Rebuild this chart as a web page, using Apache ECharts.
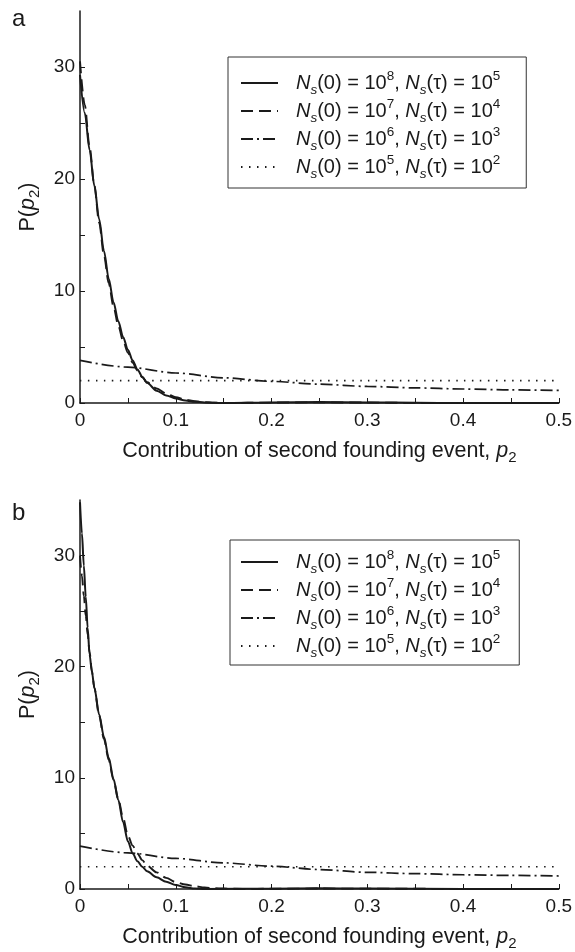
<!DOCTYPE html>
<html>
<head>
<meta charset="utf-8">
<script src="https://cdn.jsdelivr.net/npm/echarts@6/dist/echarts.min.js"></script>
<style>
  html, body { margin: 0; padding: 0; background: #fff; }
  #chart { width: 575px; height: 952px; }
</style>
</head>
<body>
<div id="chart"></div>
<script>
// ---------- data ----------
// Panel a
const pA1 = [0, 0.005, 0.01, 0.015, 0.02, 0.025, 0.03, 0.035, 0.04, 0.045, 0.05, 0.055, 0.06, 0.065, 0.07, 0.08, 0.09, 0.1, 0.11, 0.12, 0.13, 0.14, 0.15, 0.2, 0.25, 0.3, 0.35, 0.4, 0.45, 0.5];
const yA1 = [29.3, 25.9, 22.6, 19.4, 16.4, 13.6, 11.1, 9.0, 7.3, 5.9, 4.75, 3.8, 3.0, 2.35, 1.8, 1.1, 0.68, 0.4, 0.22, 0.11, 0.05, 0.02, 0.0, 0.05, 0.08, 0.05, 0.02, 0.0, 0.0, 0.0];
const pA2 = [0, 0.005, 0.01, 0.015, 0.02, 0.025, 0.03, 0.035, 0.04, 0.045, 0.05, 0.055, 0.06, 0.065, 0.07, 0.08, 0.09, 0.1, 0.11, 0.12, 0.13, 0.14, 0.15, 0.2, 0.25, 0.3, 0.35, 0.4, 0.45, 0.5];
const yA2 = [30.5, 26.6, 22.9, 19.4, 16.1, 13.2, 10.7, 8.6, 6.9, 5.55, 4.5, 3.6, 2.9, 2.3, 1.85, 1.3, 0.85, 0.52, 0.3, 0.15, 0.07, 0.03, 0.0, 0.04, 0.06, 0.04, 0.01, 0.0, 0.0, 0.0];
const pA3 = [0, 0.05, 0.1, 0.15, 0.2, 0.25, 0.3, 0.35, 0.4, 0.45, 0.5];
const yA3 = [3.8, 3.2, 2.68, 2.25, 1.93, 1.68, 1.48, 1.35, 1.25, 1.17, 1.12];
const pA4 = [0, 0.1, 0.2, 0.3, 0.4, 0.5];
const yA4 = [2.0, 2.0, 2.0, 2.0, 2.0, 2.0];

// Panel b
const pB1 = [0, 0.002, 0.004, 0.006, 0.008, 0.01, 0.0125, 0.015, 0.02, 0.025, 0.03, 0.035, 0.04, 0.045, 0.05, 0.055, 0.06, 0.065, 0.07, 0.08, 0.09, 0.1, 0.11, 0.12, 0.13, 0.2, 0.25, 0.3, 0.4, 0.5];
const yB1 = [34.8, 32.0, 29.1, 26.3, 23.5, 21.1, 19.5, 18.1, 15.7, 13.7, 11.8, 9.9, 8.0, 6.0, 4.3, 3.2, 2.5, 2.0, 1.6, 1.05, 0.65, 0.36, 0.15, 0.04, 0.0, 0.03, 0.06, 0.04, 0.01, 0.0];
const pB2 = [0, 0.002, 0.004, 0.006, 0.008, 0.01, 0.0125, 0.015, 0.02, 0.025, 0.03, 0.035, 0.04, 0.045, 0.05, 0.055, 0.06, 0.065, 0.07, 0.08, 0.09, 0.1, 0.11, 0.12, 0.13, 0.14, 0.15, 0.17, 0.2, 0.25, 0.3, 0.4, 0.5];
const yB2 = [30.0, 28.2, 26.4, 24.6, 22.9, 21.3, 19.6, 18.1, 15.6, 13.5, 11.6, 9.8, 8.1, 6.4, 4.8, 3.9, 3.2, 2.6, 2.1, 1.5, 1.0, 0.62, 0.4, 0.25, 0.14, 0.07, 0.04, 0.01, 0.02, 0.04, 0.03, 0.01, 0.0];
const pB3 = [0, 0.05, 0.1, 0.15, 0.2, 0.25, 0.3, 0.35, 0.4, 0.45, 0.5];
const yB3 = [3.86, 3.25, 2.75, 2.35, 2.05, 1.75, 1.5, 1.38, 1.28, 1.22, 1.17];
const pB4 = [0, 0.1, 0.2, 0.3, 0.4, 0.5];
const yB4 = [2.0, 2.0, 2.0, 2.0, 2.0, 2.0];

// Legend exponents and axis ticks
const expN0 = ['8', '7', '6', '5'];
const expNt = ['5', '4', '3', '2'];
const xLabelValues = [0, 0.1, 0.2, 0.3, 0.4, 0.5];
const xTickValues = [0, 0.05, 0.1, 0.15, 0.2, 0.25, 0.3, 0.35, 0.4, 0.45, 0.5];
const yLabelValues = [0, 10, 20, 30];
const yTickValues = [0, 5, 10, 15, 20, 25, 30];
const panelLabels = ['a', 'b'];

// ---------- build ----------
const FONT = '"Liberation Sans", Arial, Helvetica, sans-serif';
const INK = '#1a1a1a';
const CLEAR = 'rgba(0,0,0,0)';
const names = expN0.map((e, i) => 'Ns(0) = 10^' + e + ', Ns(τ) = 10^' + expNt[i]);
const legendRich = names.reduce((m, n, i) => {
  m[n] = '{i|N}{sub|s}{t|(0) = 10}{sup|' + expN0[i] + '}{t|, }{i|N}{sub|s}{t|(τ) = 10}{sup|' + expNt[i] + '}';
  return m;
}, {});
const styles = [
  { type: 'solid', width: 2 },
  { type: [12, 6], width: 1.9 },
  { type: [12, 4, 2, 4], width: 1.7 },
  { type: [1.5, 6.5], width: 1.7 }
];
const pair = (xs, ys) => xs.map((x, i) => [x, ys[i]]);
const dataA = [pair(pA1, yA1), pair(pA2, yA2), pair(pA3, yA3), pair(pA4, yA4)];
const dataB = [pair(pB1, yB1), pair(pB2, yB2), pair(pB3, yB3), pair(pB4, yB4)];

const richText = (size, lh, small) => ({
  t: { fontSize: size, fontFamily: FONT, color: INK, lineHeight: lh },
  i: { fontSize: size, fontFamily: FONT, color: INK, fontStyle: 'italic', lineHeight: lh },
  sub: { fontSize: small, fontFamily: FONT, color: INK, fontStyle: 'italic', lineHeight: 12, verticalAlign: 'bottom' },
  s2: { fontSize: small, fontFamily: FONT, color: INK, lineHeight: 12, verticalAlign: 'bottom' },
  sup: { fontSize: small, fontFamily: FONT, color: INK, lineHeight: 12, verticalAlign: 'top' }
});

const grids = [
  { left: 80, right: 15, top: 11, height: 392 },
  { left: 80, right: 15, top: 500, height: 392 }
];

const xAxes = [0, 1].map(g => ({
  type: 'value', gridIndex: g, min: 0, max: 0.5,
  axisLine: { show: true, lineStyle: { color: INK, width: 1.5 } },
  axisTick: { show: true, inside: true, length: 5, lineStyle: { color: INK, width: 1 }, customValues: xTickValues },
  axisLabel: { show: true, customValues: xLabelValues, color: INK, fontSize: 19, fontFamily: FONT, margin: 8,
    formatter: v => String(v) },
  splitLine: { show: false },
  name: '{t|Contribution of second founding event, }{i|p}{s2|2}',
  nameLocation: 'middle', nameGap: 35,
  nameTextStyle: { rich: richText(21.5, 27, 15) }
}));

const yAxes = [0, 1].map(g => ({
  type: 'value', gridIndex: g, min: 0, max: 35,
  axisLine: { show: true, lineStyle: { color: INK, width: 1.5 } },
  axisTick: { show: true, inside: true, length: 5, lineStyle: { color: INK, width: 1 }, customValues: yTickValues },
  axisLabel: { show: true, customValues: yLabelValues, color: INK, fontSize: 19, fontFamily: FONT, margin: 5 },
  splitLine: { show: false },
  name: '{t|P(}{i|p}{s2|2}{t|)}',
  nameLocation: 'middle', nameGap: 38, nameRotate: 90,
  nameTextStyle: { rich: richText(21.5, 27, 15) }
}));

const series = [];
[dataA, dataB].forEach((dset, g) => {
  dset.forEach((d, k) => {
    series.push({
      type: 'line', name: names[k], xAxisIndex: g, yAxisIndex: g,
      data: d, symbol: 'none', smooth: 0.3, smoothMonotone: 'x',
      lineStyle: { color: INK, width: styles[k].width, type: styles[k].type },
      itemStyle: { color: INK },
      emphasis: { disabled: true }, silent: true, z: 3 + k, clip: true
    });
  });
});

const legendCommon = {
  orient: 'vertical', data: names,
  itemWidth: 37, itemHeight: 14, itemGap: 0,
  borderColor: '#333', borderWidth: 1, borderRadius: 0,
  backgroundColor: '#fff', selectedMode: false,
  itemStyle: { color: CLEAR, borderColor: CLEAR, borderWidth: 0 },
  formatter: n => legendRich[n],
  textStyle: { fontSize: 20, fontFamily: FONT, color: INK, padding: [0, 0, 0, 13], rich: richText(20, 28, 13.5) }
};

const option = {
  backgroundColor: '#fff',
  animation: false,
  title: [
    { text: panelLabels[0], left: 7, top: 2, textStyle: { fontSize: 24, fontWeight: 'normal', fontFamily: FONT, color: INK } },
    { text: panelLabels[1], left: 7, top: 496, textStyle: { fontSize: 24, fontWeight: 'normal', fontFamily: FONT, color: INK } }
  ],
  grid: grids,
  xAxis: xAxes,
  yAxis: yAxes,
  legend: [
    Object.assign({}, legendCommon, { left: 228, top: 57, padding: [12, 26, 7, 12] }),
    Object.assign({}, legendCommon, { left: 230, top: 540, padding: [8, 19, 5, 10] })
  ],
  series: series
};

const chart = echarts.init(document.getElementById('chart'), null, { renderer: 'canvas' });
chart.setOption(option);
</script>
</body>
</html>
